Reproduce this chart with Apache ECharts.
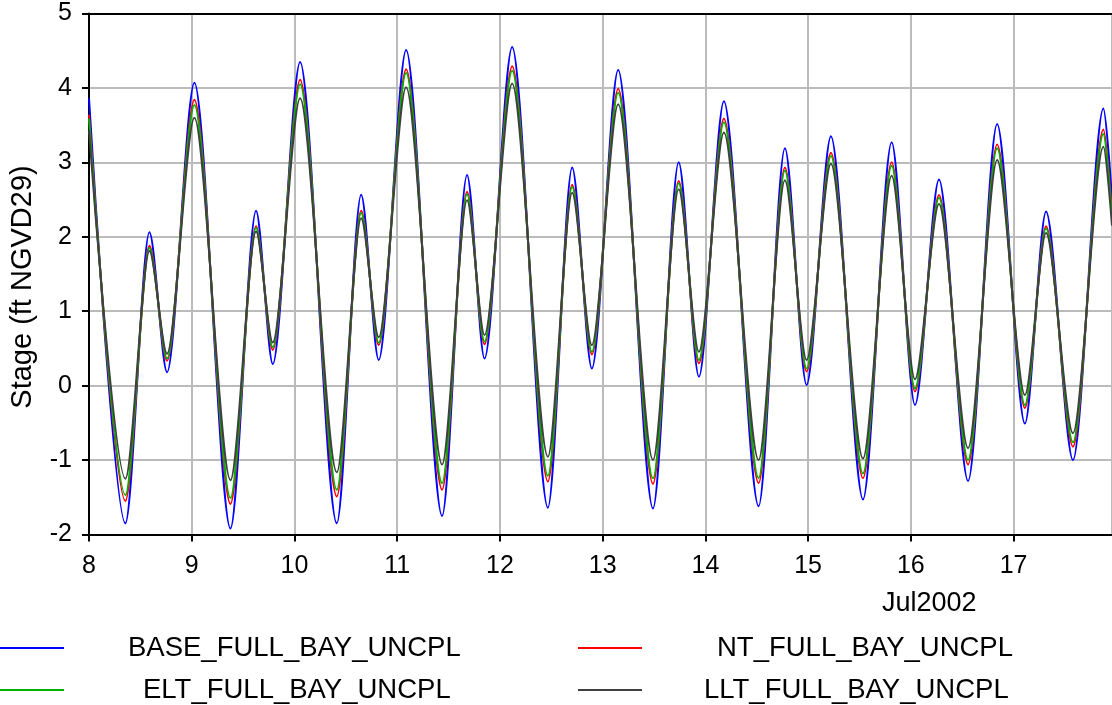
<!DOCTYPE html>
<html>
<head>
<meta charset="utf-8">
<script src="https://cdn.jsdelivr.net/npm/echarts@6/dist/echarts.min.js"></script>
<style>
html,body{margin:0;padding:0;background:#fff;}
#chart{width:1112px;height:705px;}
</style>
</head>
<body>
<div id="chart"></div>
<script>
// Times of highs/lows, in day-of-month (July 2002)
const tideTimes = [8.000, 8.354, 8.588, 8.760, 9.026, 9.377, 9.626, 9.789, 10.055, 10.412, 10.649, 10.820, 11.087, 11.437, 11.680, 11.850, 12.119, 12.467, 12.703, 12.895, 13.151, 13.490, 13.740, 13.937, 14.180, 14.518, 14.774, 14.985, 15.222, 15.534, 15.813, 16.040, 16.274, 16.557, 16.840, 17.110, 17.316, 17.578, 17.874, 17.958];
const baseStage = [3.86, -1.85, 2.06, 0.18, 4.07, -1.92, 2.35, 0.29, 4.35, -1.85, 2.565, 0.344, 4.51, -1.75, 2.83, 0.365, 4.55, -1.64, 2.93, 0.23, 4.24, -1.65, 3.00, 0.12, 3.82, -1.62, 3.19, 0.01, 3.35, -1.53, 3.27, -0.26, 2.77, -1.28, 3.515, -0.51, 2.34, -1.00, 3.725, 2.5];
const ntStage = [3.64, -1.55, 1.88, 0.335, 3.84, -1.59, 2.14, 0.48, 4.11, -1.49, 2.35, 0.545, 4.25, -1.40, 2.605, 0.555, 4.29, -1.29, 2.70, 0.42, 3.99, -1.32, 2.75, 0.30, 3.59, -1.31, 2.93, 0.19, 3.13, -1.245, 3.00, -0.08, 2.56, -1.06, 3.24, -0.30, 2.14, -0.82, 3.44, 2.3];
const eltStage = [3.59, -1.47, 1.85, 0.365, 3.77, -1.51, 2.12, 0.515, 4.05, -1.40, 2.32, 0.577, 4.20, -1.31, 2.57, 0.59, 4.23, -1.21, 2.67, 0.455, 3.935, -1.245, 2.72, 0.344, 3.54, -1.24, 2.89, 0.23, 3.085, -1.18, 2.955, -0.04, 2.525, -1.00, 3.19, -0.26, 2.11, -0.76, 3.38, 2.25];
const lltStage = [3.43, -1.25, 1.81, 0.43, 3.60, -1.27, 2.07, 0.58, 3.86, -1.165, 2.25, 0.65, 4.01, -1.06, 2.49, 0.68, 4.06, -0.955, 2.59, 0.545, 3.78, -1.00, 2.64, 0.455, 3.40, -1.00, 2.76, 0.344, 2.98, -0.98, 2.82, 0.085, 2.44, -0.84, 3.03, -0.126, 2.05, -0.64, 3.21, 2.15];
const seriesNames = ['BASE_FULL_BAY_UNCPL', 'NT_FULL_BAY_UNCPL', 'ELT_FULL_BAY_UNCPL', 'LLT_FULL_BAY_UNCPL'];
const dayTickLabels = ['8', '9', '10', '11', '12', '13', '14', '15', '16', '17'];
const monthLabel = 'Jul2002';
const yTitle = 'Stage (ft NGVD29)';

const colors = ['#0000ff', '#ff0000', '#00b000', '#404040'];
const stageArrays = [baseStage, ntStage, eltStage, lltStage];
const FONT = 'Liberation Sans, Arial, sans-serif';

const chart = echarts.init(document.getElementById('chart'), null, {renderer: 'canvas'});

const series = seriesNames.map((name, i) => ({
  name: name,
  type: 'line',
  data: tideTimes.map((t, k) => [t, stageArrays[i][k]]),
  smooth: 0.3,
  smoothMonotone: 'x',
  symbol: 'none',
  showSymbol: false,
  clip: true,
  lineStyle: {color: colors[i], width: 2},
  itemStyle: {color: colors[i]},
  z: 2 + i,
  animation: false
}));

const legendPos = [
  {left: 0, top: 634},
  {left: 578, top: 634},
  {left: 0, top: 676},
  {left: 578, top: 676}
];
const legendPad = [59, 70, 74, 57];
const legends = seriesNames.map((name, i) => ({
  data: [{name: name, icon: 'rect'}],
  left: legendPos[i].left,
  top: legendPos[i].top,
  padding: 0,
  itemWidth: 64,
  itemHeight: 2,
  selectedMode: false,
  itemStyle: {color: colors[i], borderWidth: 0},
  textStyle: {fontFamily: FONT, fontSize: 27.5, color: '#000', padding: [0, 0, 0, legendPad[i]]}
}));

chart.setOption({
  animation: false,
  backgroundColor: '#fff',
  grid: {left: 89, right: 0, top: 13.5, bottom: 170.5, containLabel: false, outerBoundsMode: 'none'},
  legend: legends,
  xAxis: [{
    type: 'value',
    min: 8,
    max: 17.958,
    interval: 1,
    axisLine: {show: true, onZero: false, lineStyle: {color: '#000', width: 2}},
    axisTick: {show: true, inside: false, length: 7, lineStyle: {color: '#000', width: 2}},
    axisLabel: {
      show: true, margin: 19, fontFamily: FONT, fontSize: 25, color: '#000',
      showMaxLabel: false,
      formatter: v => { const idx = Math.round(v) - 8; return (Math.abs(v - Math.round(v)) < 1e-6 && dayTickLabels[idx]) ? dayTickLabels[idx] : ''; }
    },
    splitLine: {show: true, lineStyle: {color: '#bbbbbb', width: 2}}
  }, {
    type: 'value',
    position: 'top',
    min: 8,
    max: 17.958,
    axisLine: {show: true, onZero: false, lineStyle: {color: '#000', width: 2}},
    axisTick: {show: false},
    axisLabel: {show: false},
    splitLine: {show: false}
  }],
  yAxis: {
    type: 'value',
    min: -2,
    max: 5,
    interval: 1,
    name: yTitle,
    nameLocation: 'middle',
    nameGap: 52,
    nameRotate: 90,
    nameTextStyle: {fontFamily: FONT, fontSize: 29, color: '#000', padding: [0, 26, 0, 0]},
    axisLine: {show: true, onZero: false, lineStyle: {color: '#000', width: 2}},
    axisTick: {show: true, inside: false, length: 7, lineStyle: {color: '#000', width: 2}},
    axisLabel: {margin: 17, fontFamily: FONT, fontSize: 25, color: '#000'},
    splitLine: {show: true, lineStyle: {color: '#bbbbbb', width: 2}}
  },
  graphic: [{
    type: 'text',
    left: 882,
    top: 590,
    style: {text: monthLabel, font: '27px ' + FONT, fill: '#000'}
  }],
  series: series
});
</script>
</body>
</html>
